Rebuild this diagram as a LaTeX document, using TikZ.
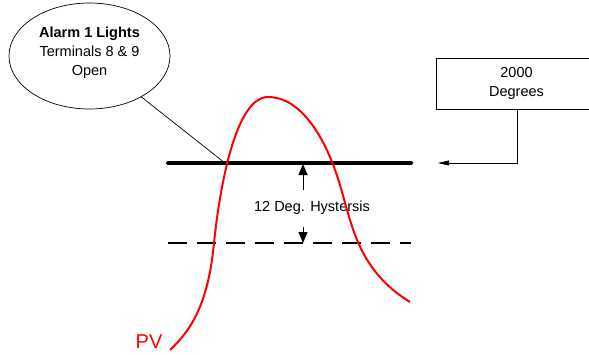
\documentclass[tikz,border=0pt]{standalone}
\usepackage{fontspec}
\setmainfont{Liberation Sans}
\usetikzlibrary{shapes.geometric,arrows.meta}
\begin{document}
\begin{tikzpicture}[x=1pt,y=-1pt,
  txt/.style={font=\fontsize{14.5}{19}\selectfont, align=center, inner sep=0pt},
  thin line/.style={draw=black, line width=0.7pt},
  setline/.style={line width=4pt, line cap=round},
  hystline/.style={line width=2.5pt, dash pattern=on 19pt off 10pt},
  hystarrow/.style={line width=1pt, -{Triangle[length=11pt,width=9pt]}},
  pvcurve/.style={draw=red, line width=2pt},
]
\useasboundingbox (0,0) rectangle (589,354);
\clip (0,0) rectangle (589,354);
% callout ellipse
\node[ellipse, draw, thin line, minimum width=161pt, minimum height=106pt, inner sep=0pt] (ell) at (89.5,56) {};
\node[txt] (elltxt) at (89.5,53) {\textbf{Alarm 1 Lights}\\Terminals 8 \& 9\\Open};
% setpoint box
\node[rectangle, draw, thin line, minimum width=161pt, minimum height=51pt, inner sep=0pt] (box) at (516.5,83.5) {};
\node[txt] (boxtxt) at (516.5,83.5) {2000\\Degrees};
% lines
\coordinate (sL) at (168,163);
\coordinate (sR) at (411,163);
\coordinate (dL) at (168,243);
\coordinate (dR) at (411,243);
\coordinate (j) at (225,163);
\coordinate (bend) at (517,163);
\coordinate (tip) at (438,163);
\draw[setline] (sL) -- (sR);
\draw[hystline] (dL) -- (dR);
\draw[thin line] (ell) -- (j);
\draw[thin line, -{Triangle[length=11pt,width=5pt]}] (box.south -| bend) -- (bend) -- (tip);
% hysteresis arrows
\coordinate (ua) at (303,190);
\coordinate (ub) at (303,164);
\coordinate (da) at (303,227);
\coordinate (db) at (303,243);
\draw[hystarrow] (ua) -- (ub);
\draw[hystarrow] (da) -- (db);
\node[txt] (hyst) at (312,208) {12 Deg. Hystersis};
% PV curve
\draw[pvcurve] (170,350) .. controls (196,326) and (209,295) .. (214,243)
  .. controls (220,185) and (236,97) .. (268,97)
  .. controls (300,97) and (325,135) .. (340,185)
  .. controls (352,225) and (358,270) .. (410,302);
\node[text=red, font=\fontsize{20}{24}\selectfont, inner sep=0pt] (pv) at (149,342) {PV};
\end{tikzpicture}
\end{document}
